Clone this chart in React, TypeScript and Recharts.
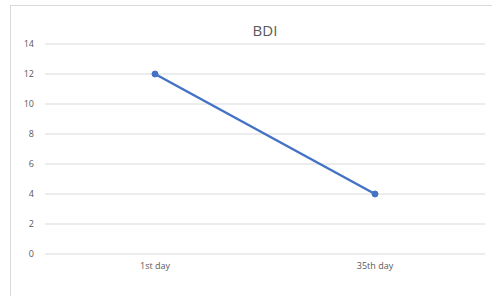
import { LineChart, Line, XAxis, YAxis, CartesianGrid } from 'recharts';

const days = ['1st day', '35th day'];
const bdiValues = [12, 4];
const yTicks = [0, 2, 4, 6, 8, 10, 12, 14];

const data = days.map((day, i) => ({ day, bdi: bdiValues[i] }));

const fontFamily = '"Open Sans", "Noto Sans", sans-serif';

export default function App() {
  return (
    <div style={{ position: 'absolute', left: 0, top: 0, width: 492, height: 296, background: '#fff', fontFamily }}>
      {/* chart frame (only left/top edges visible in the source) */}
      <div
        style={{
          position: 'absolute',
          left: 10,
          top: 5,
          width: 482,
          height: 291,
          borderLeft: '1px solid #d9d9d9',
          borderTop: '1px solid #d9d9d9',
        }}
      />
      <div
        style={{
          position: 'absolute',
          left: 45,
          width: 440,
          top: 20,
          textAlign: 'center',
          fontSize: 15,
          color: '#595959',
        }}
      >
        BDI
      </div>
      <div style={{ position: 'absolute', left: 0, top: 0 }}>
        <LineChart width={492} height={296} data={data} margin={{ top: 44, right: 7, bottom: 12, left: 10 }}>
          <CartesianGrid vertical={false} stroke="#d9d9d9" />
          <XAxis
            dataKey="day"
            scale="band"
            axisLine={false}
            tickLine={false}
            tickSize={0}
            tickMargin={9}
            height={30}
            tick={{ fill: '#595959', fontSize: 9, fontFamily }}
          />
          <YAxis
            domain={[0, 14]}
            ticks={yTicks}
            axisLine={false}
            tickLine={false}
            tickSize={0}
            tickMargin={11}
            width={35}
            tick={{ fill: '#595959', fontSize: 9, fontFamily }}
          />
          <Line
            type="linear"
            dataKey="bdi"
            stroke="#4472c4"
            strokeWidth={2.5}
            dot={{ r: 3, fill: '#4472c4', stroke: '#4472c4', strokeWidth: 1 }}
            isAnimationActive={false}
          />
        </LineChart>
      </div>
    </div>
  );
}
